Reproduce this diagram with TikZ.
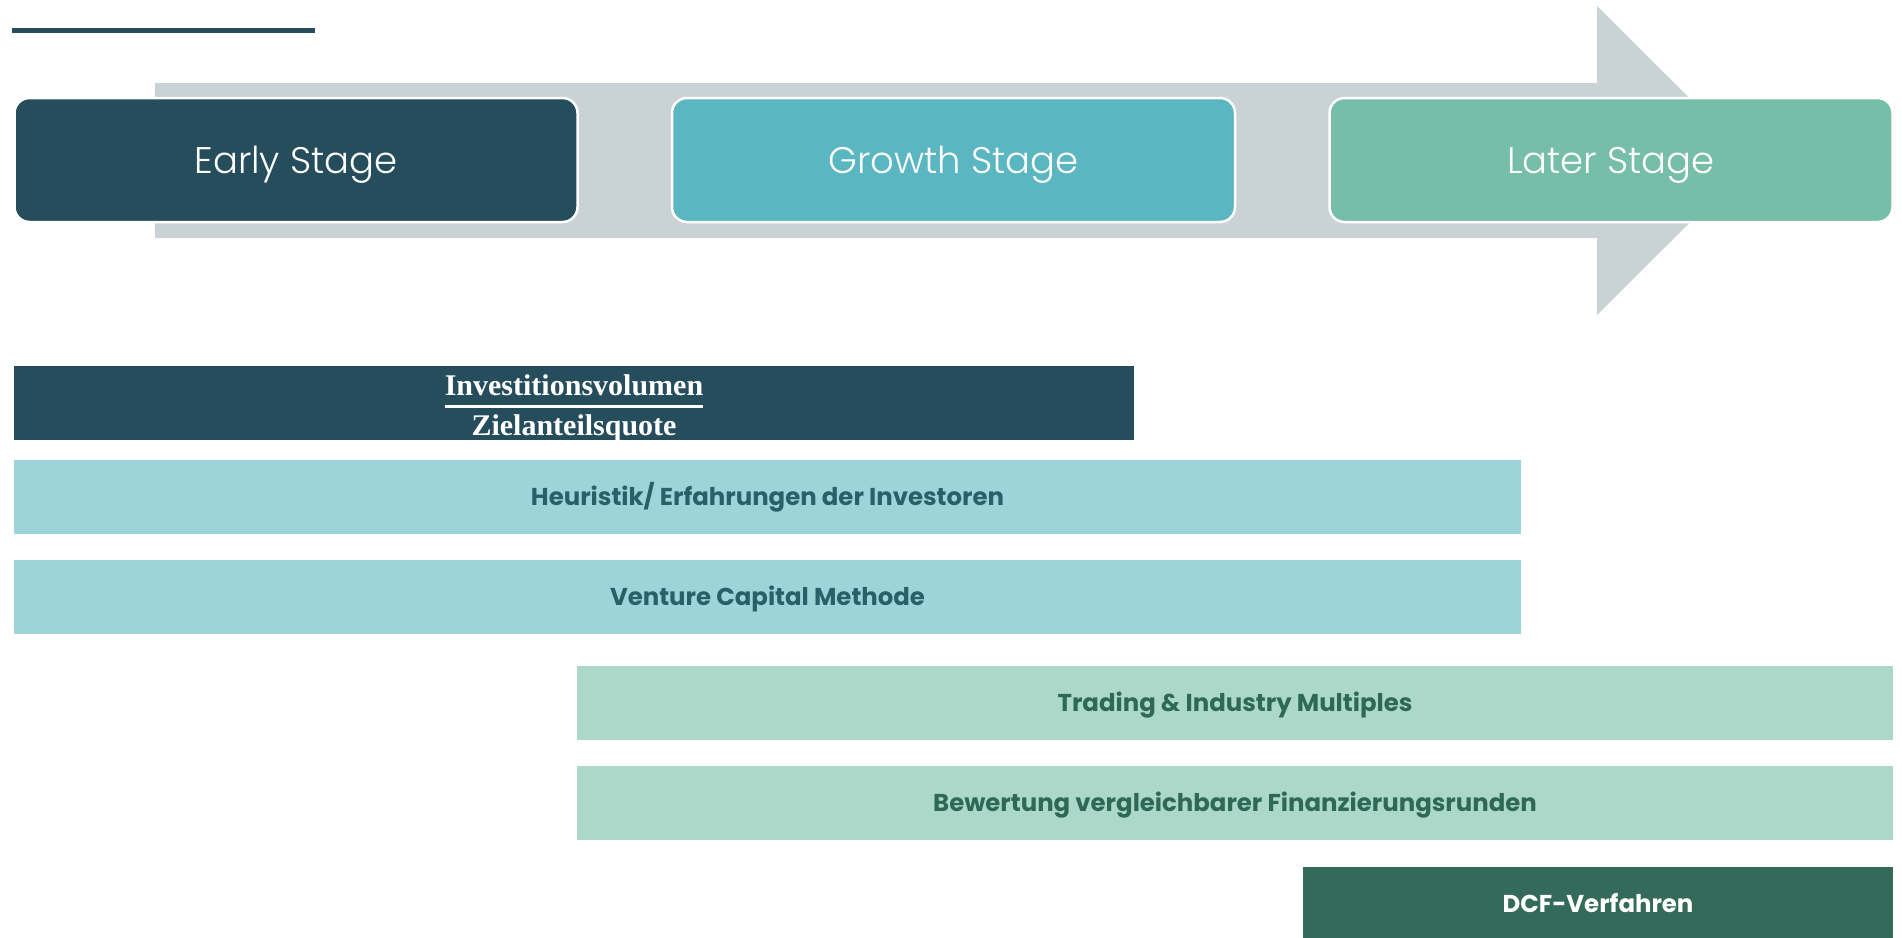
\documentclass[tikz,border=0pt]{standalone}
\usepackage{amsmath}
\usepackage{fontspec}
\setmainfont{Poppins}
\newfontfamily\stagelight{Poppins Light}
\newfontfamily\fracserif{Liberation Serif}
\usepackage{tikz}
\usetikzlibrary{positioning}
\usepackage{xcolor}
\definecolor{vcdark}{RGB}{37,77,92}
\definecolor{vcgrowth}{RGB}{90,182,192}
\definecolor{vclater}{RGB}{118,190,168}
\definecolor{vcgrey}{RGB}{201,210,212}
\definecolor{vclightblue}{RGB}{157,212,217}
\definecolor{vclightgreen}{RGB}{172,216,202}
\definecolor{vcgreen}{RGB}{51,106,89}
\definecolor{vcbluetext}{RGB}{42,95,105}
\definecolor{vcgreentext}{RGB}{46,104,86}
\newcommand{\stagesize}{\stagelight\fontsize{37}{40}\selectfont}
\newcommand{\barsize}{\fontsize{24.4}{30}\selectfont\bfseries}
\tikzstyle{stage} = [rectangle, rounded corners=15pt, minimum width=563pt, minimum height=124pt, text centered, text height=26pt, text depth=0pt, draw=white, line width=2.5pt, text=white, font=\stagesize]
\tikzstyle{bar} = [rectangle, minimum height=74pt, inner sep=0pt, text centered, text height=17.5pt, text depth=0pt, font=\barsize]

\begin{document}
\begin{tikzpicture}[x=1pt, y=-1pt]
    \useasboundingbox (0,0) rectangle (1902,937);

    % Title rule
    \draw[vcdark, line width=4.5pt] (12,30.5) -- (315,30.5);

    % Background arrow
    \fill[vcgrey] (155,83) -- (1597,83) -- (1597,6) -- (1752,160.5) -- (1597,315) -- (1597,238) -- (155,238) -- cycle;

    % Stages
    \node[stage, fill=vcdark] (early) at (296,160) {Early Stage};
    \node[stage, fill=vcgrowth] (growth) at (953.5,160) {Growth Stage};
    \node[stage, fill=vclater] (later) at (1611,160) {Later Stage};

    % Methods
    \node[bar, fill=vcdark, minimum width=1120pt, text=white, text height=0pt] (invest) at (574,403)
        {\fracserif\bfseries\fontsize{30}{34}\selectfont \raisebox{-9.5pt}[0pt][0pt]{$\genfrac{}{}{2.5pt}{0}{\text{Investitionsvolumen}}{\text{Zielanteilsquote}}$}};
    \node[bar, fill=vclightblue, minimum width=1507pt, text=vcbluetext] (heuristik) at (767.5,497) {Heuristik/ Erfahrungen der Investoren};
    \node[bar, fill=vclightblue, minimum width=1507pt, text=vcbluetext] (vcmethod) at (767.5,597) {Venture Capital Methode};
    \node[bar, fill=vclightgreen, minimum width=1316pt, text=vcgreentext] (multiples) at (1235,703) {Trading \& Industry Multiples};
    \node[bar, fill=vclightgreen, minimum width=1316pt, text=vcgreentext] (rounds) at (1235,803) {Bewertung vergleichbarer Finanzierungsrunden};
    \node[bar, fill=vcgreen, minimum width=590pt, text=white] (dcf) at (1598,904) {DCF-Verfahren};
\end{tikzpicture}
\end{document}
